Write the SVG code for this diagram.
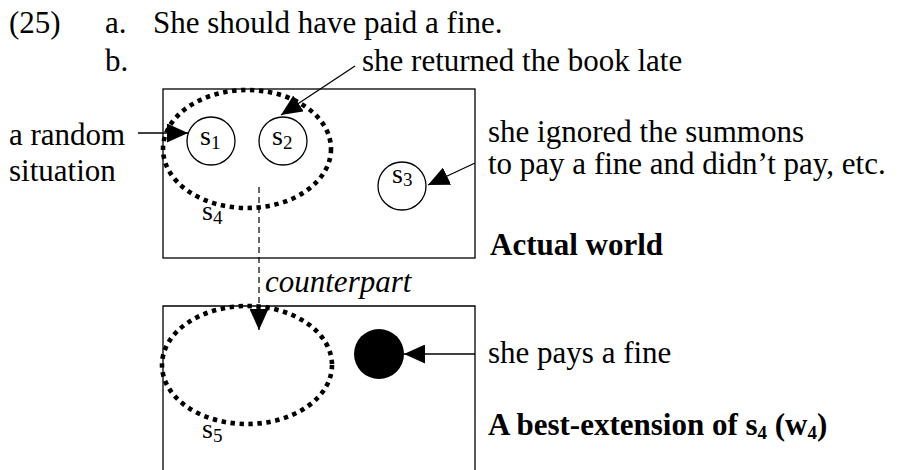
<svg xmlns="http://www.w3.org/2000/svg" width="903" height="470" viewBox="0 0 903 470">
<style>
  text { font-family: 'Liberation Serif', 'DejaVu Serif', serif; font-size: 31px; fill: #000; }
  .b { font-weight: bold; }
  .i { font-style: italic; }
  .lab { font-size: 28px; }
  .sub { font-size: 19px; }
  .box { fill: none; stroke: #000; stroke-width: 1.3; }
  .sit { fill: #fff; stroke: #000; stroke-width: 1.3; }
  .dot { fill: none; stroke: #000; stroke-width: 4.6; stroke-dasharray: 4.4 4.6; }
  .arr { fill: none; stroke: #000; stroke-width: 1.3; marker-end: url(#ah); }
  .dash { fill: none; stroke: #000; stroke-width: 1.2; stroke-dasharray: 6 4; marker-end: url(#ah); }
</style>
<defs>
  <marker id="ah" viewBox="0 0 21 19" refX="21" refY="9.5" markerWidth="21" markerHeight="19" markerUnits="userSpaceOnUse" orient="auto">
    <path d="M0,0 L21,9.5 L0,19 z" fill="#000"/>
  </marker>
</defs>

<g id="heading" font-family="Liberation Serif, DejaVu Serif, serif">
  <text x="9" y="33">(25)</text>
  <text x="105" y="33">a.</text>
  <text x="153" y="33">She should have paid a fine.</text>
  <text x="105" y="71">b.</text>
</g>

<g id="actual-world" font-family="Liberation Serif, DejaVu Serif, serif">
  <rect class="box" x="163" y="89" width="312" height="169"/>
  <text class="b" x="490" y="255">Actual world</text>
</g>

<g id="best-extension" font-family="Liberation Serif, DejaVu Serif, serif">
  <path class="box" d="M163,475 V306 H475 V475"/>
  <text class="b" x="488" y="435">A best-extension of s<tspan class="sub" dy="4">4</tspan><tspan dy="-4"> (w</tspan><tspan class="sub" dy="4">4</tspan><tspan dy="-4">)</tspan></text>
</g>

<g id="s4" font-family="Liberation Serif, DejaVu Serif, serif">
  <ellipse class="dot" cx="247" cy="149" rx="84" ry="59"/>
  <text class="lab" x="202" y="220">s<tspan class="sub" dy="4">4</tspan></text>
</g>

<g id="s1" font-family="Liberation Serif, DejaVu Serif, serif">
  <circle class="sit" cx="211" cy="141" r="24"/>
  <text class="lab" x="200" y="145">s<tspan class="sub" dy="4">1</tspan></text>
</g>

<g id="s2" font-family="Liberation Serif, DejaVu Serif, serif">
  <circle class="sit" cx="283" cy="141" r="24"/>
  <text class="lab" x="272" y="145">s<tspan class="sub" dy="4">2</tspan></text>
</g>

<g id="s3" font-family="Liberation Serif, DejaVu Serif, serif">
  <circle class="sit" cx="402" cy="186" r="24"/>
  <text class="lab" x="392" y="183">s<tspan class="sub" dy="3">3</tspan></text>
</g>

<g id="s5" font-family="Liberation Serif, DejaVu Serif, serif">
  <ellipse class="dot" cx="247" cy="365" rx="85" ry="59"/>
  <text class="lab" x="202" y="438">s<tspan class="sub" dy="4">5</tspan></text>
</g>

<g id="fine-situation">
  <circle cx="379" cy="354" r="25" fill="#000"/>
</g>

<g id="labels" font-family="Liberation Serif, DejaVu Serif, serif">
  <text x="9" y="145">a random</text>
  <text x="9" y="181">situation</text>
  <text x="362" y="71">she returned the book late</text>
  <text x="488" y="142">she ignored the summons</text>
  <text x="488" y="174">to pay a fine and didn’t pay, etc.</text>
  <text x="488" y="363">she pays a fine</text>
  <text class="i" x="265" y="292">counterpart</text>
</g>

<g id="connectors">
  <line class="arr" x1="138" y1="133" x2="188" y2="133"/>
  <line class="arr" x1="355" y1="66" x2="281" y2="115"/>
  <line class="arr" x1="475" y1="163" x2="428" y2="185"/>
  <line class="arr" x1="475" y1="354" x2="404" y2="354"/>
  <line class="dash" x1="259" y1="187" x2="259" y2="330"/>
</g>
</svg>
